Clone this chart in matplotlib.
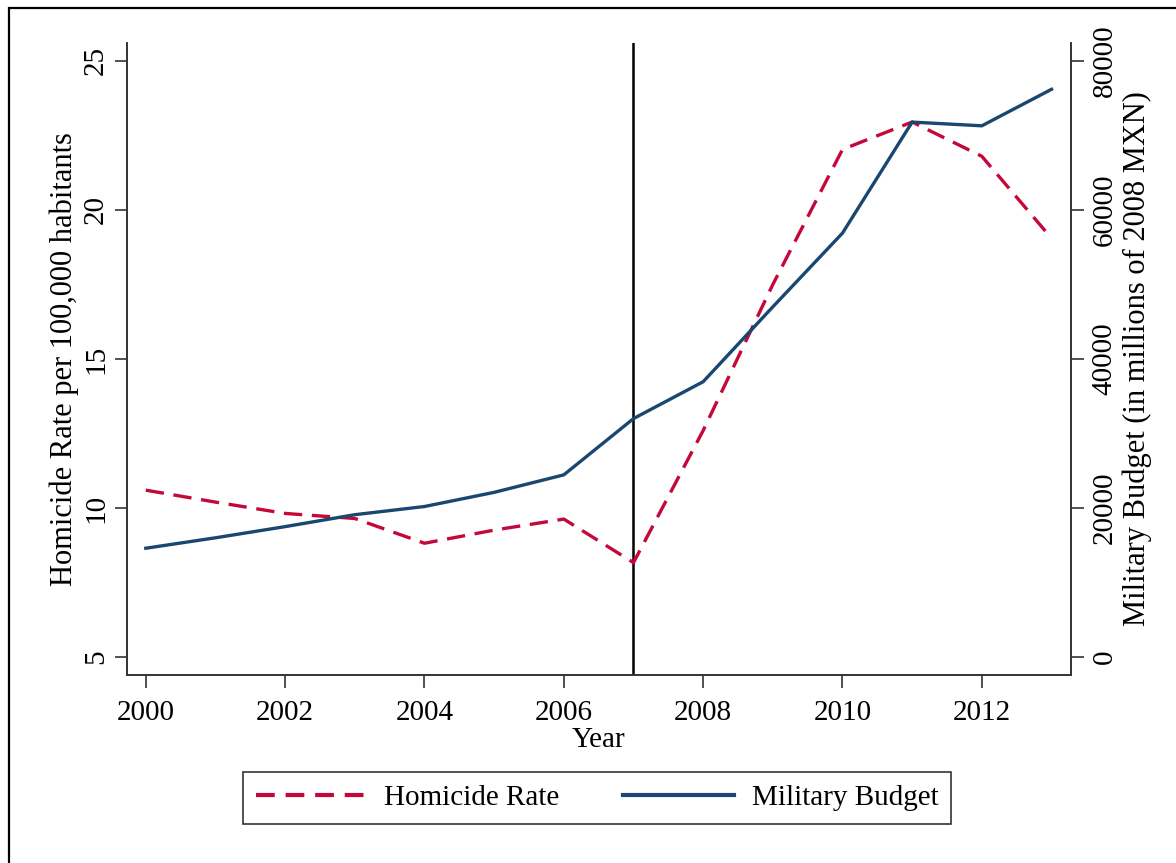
import matplotlib
matplotlib.use("Agg")
import matplotlib.pyplot as plt
from matplotlib.patches import Rectangle
from matplotlib.lines import Line2D

plt.rcParams['font.family'] = ['Liberation Serif', 'DejaVu Serif']

years = [2000, 2001, 2002, 2003, 2004, 2005, 2006, 2007, 2008, 2009, 2010, 2011, 2012, 2013]
homicide_rate = [10.6, 10.2, 9.82, 9.65, 8.82, 9.26, 9.63, 8.17, 12.6, 17.5, 22.03, 22.95, 21.8, 19.05]
military_budget = [14600, 16000, 17500, 19100, 20200, 22100, 24450, 32000, 36950, 47000,
                   56900, 71800, 71300, 76200]
x_ticks = [2000, 2002, 2004, 2006, 2008, 2010, 2012]
left_ticks = [5, 10, 15, 20, 25]
right_ticks = [0, 20000, 40000, 60000, 80000]
event_year = 2007

RED = '#c4083a'
NAVY = '#1a476f'
AXC = '#333333'
FS = 21

fig = plt.figure(figsize=(11.76, 8.63), dpi=100)
fig.patch.set_facecolor('white')
# outer frame (as in the screenshot)
fig.patches.append(Rectangle((9 / 1176, -0.05), 1.2, 1 - 8 / 863 + 0.05, transform=fig.transFigure,
                             fill=False, edgecolor='black', linewidth=1.6, zorder=10))

ax = fig.add_axes([127 / 1176, 1 - 675 / 863, (1071 - 127) / 1176, (675 - 43) / 863])
ax2 = ax.twinx()

l1, = ax.plot(years, homicide_rate, color=RED, linewidth=2.4, dashes=(5.5, 2.9), zorder=3)
l2, = ax2.plot(years, military_budget, color=NAVY, linewidth=2.4, zorder=3)
ax.axvline(event_year, color='black', linewidth=1.8, zorder=2)

ax.set_xlim(1999.73, 2013.28)
ax.set_ylim(4.40, 25.6)
ax2.set_ylim(-2416, 82416)

ax.set_xticks(x_ticks)
ax.set_yticks(left_ticks)
ax2.set_yticks(right_ticks)

for a in (ax, ax2):
    a.spines['top'].set_visible(False)
    for s in ('left', 'right', 'bottom'):
        a.spines[s].set_color(AXC)
        a.spines[s].set_linewidth(1.2)
    a.tick_params(axis='both', direction='out', length=9, width=1.2, color=AXC,
                  labelsize=FS, pad=6)

ax.tick_params(axis='x', pad=9)
ax.tick_params(axis='y', pad=4)
for lab in ax.get_yticklabels():
    lab.set_rotation(90)
    lab.set_va('center')
for lab in ax2.get_yticklabels():
    lab.set_rotation(90)
    lab.set_va('center')

ax.set_xlabel('Year', fontsize=FS, labelpad=1)
ax.set_ylabel('Homicide Rate per 100,000 habitants', fontsize=22, labelpad=3)
ax2.set_ylabel('Military Budget (in millions of 2008 MXN)', fontsize=22, labelpad=3)

handles = [Line2D([], [], color=RED, linewidth=3, dashes=(4.5, 2.6)),
           Line2D([], [], color=NAVY, linewidth=3)]
leg = fig.legend(handles, ['Homicide Rate', 'Military Budget'], loc='center',
                 bbox_to_anchor=(597 / 1176, 1 - 798 / 863), ncol=2, fontsize=FS,
                 frameon=True, fancybox=False, edgecolor='black', handlelength=3.8,
                 columnspacing=2.2, handletextpad=0.6, borderpad=0.45)
leg.get_frame().set_linewidth(1.2)

fig.savefig('out.png', dpi=100)
